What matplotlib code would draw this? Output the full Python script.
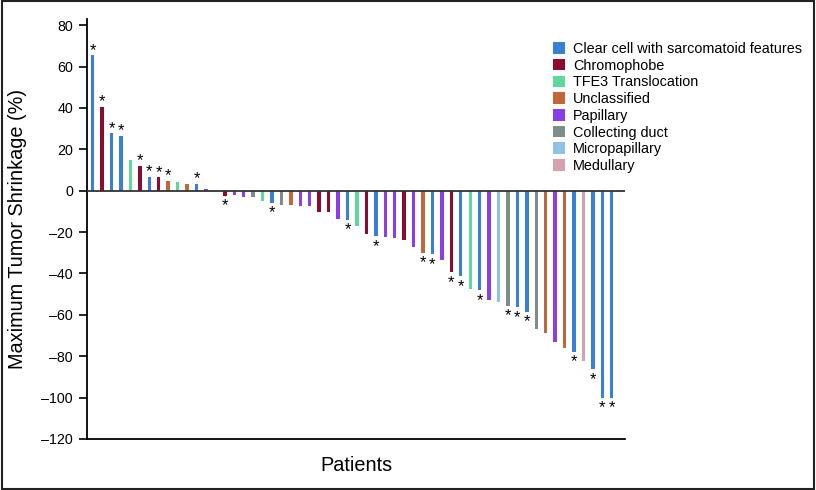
import matplotlib.pyplot as plt
from matplotlib import font_manager as fm
from matplotlib.patches import Patch, Rectangle

plt.rcParams['font.family'] = ['Liberation Sans', 'DejaVu Sans']

# condensed face for ticks and x label, if there is one
installed = {f.name for f in fm.fontManager.ttflist}
if 'Liberation Sans Narrow' in installed:
    narrow, tick_size, xlab_size = 'Liberation Sans Narrow', 11, 17.5
else:
    narrow, tick_size, xlab_size = 'Liberation Sans', 10.3, 14.3

# subtype colours
colors = {
    'Clear cell with sarcomatoid features': '#3a7fd6',
    'Chromophobe': '#8b0c2e',
    'TFE3 Translocation': '#5fd89e',
    'Unclassified': '#c0673b',
    'Papillary': '#8b3ee8',
    'Collecting duct': '#7f8c8c',
    'Micropapillary': '#90c1e7',
    'Medullary': '#d4a1ad',
}

# per patient, sorted as in the waterfall
values = [65.5, 40.5, 27.8, 26.5, 15, 12, 6.8, 6.5, 4.8, 4, 3.4, 3.2, 0.8, 0,
          -2.4, -2.1, -3, -3, -4.8, -5.9, -6.8, -6.8, -7.6, -7.6, -10.1, -10.1,
          -13.5, -14.2, -17, -21, -22, -22.3, -23, -24, -27, -30, -30.8, -33.4,
          -39.5, -41.3, -47.3, -48.1, -52.7, -53.8, -55.7, -56.4, -58.6, -66.9,
          -68.6, -73.2, -76.1, -78, -82.1, -86.4, -100, -100]

subtypes = ['Clear cell with sarcomatoid features', 'Chromophobe',
            'Clear cell with sarcomatoid features', 'Clear cell with sarcomatoid features',
            'TFE3 Translocation', 'Chromophobe', 'Clear cell with sarcomatoid features',
            'Chromophobe', 'Unclassified', 'TFE3 Translocation', 'Unclassified',
            'Clear cell with sarcomatoid features', 'Papillary', 'Papillary',
            'Chromophobe', 'Papillary', 'Papillary', 'Collecting duct',
            'TFE3 Translocation', 'Clear cell with sarcomatoid features',
            'Collecting duct', 'Unclassified', 'Papillary', 'Papillary',
            'Chromophobe', 'Chromophobe', 'Papillary',
            'Clear cell with sarcomatoid features', 'TFE3 Translocation',
            'Chromophobe', 'Clear cell with sarcomatoid features', 'Papillary',
            'Papillary', 'Chromophobe', 'Papillary', 'Unclassified',
            'Clear cell with sarcomatoid features', 'Papillary', 'Chromophobe',
            'Clear cell with sarcomatoid features', 'TFE3 Translocation',
            'Clear cell with sarcomatoid features', 'Papillary', 'Micropapillary',
            'Collecting duct', 'Clear cell with sarcomatoid features',
            'Clear cell with sarcomatoid features', 'Collecting duct',
            'Unclassified', 'Papillary', 'Unclassified',
            'Clear cell with sarcomatoid features', 'Medullary',
            'Clear cell with sarcomatoid features',
            'Clear cell with sarcomatoid features',
            'Clear cell with sarcomatoid features']

# patients marked with an asterisk (1-based)
starred = [1, 2, 3, 4, 6, 7, 8, 9, 12, 15, 20, 28, 31, 36, 37, 39, 40, 42,
           45, 46, 47, 52, 54, 55, 56]

fig = plt.figure(figsize=(8.16, 4.9), dpi=100)
ax = fig.add_axes([87 / 816, 51 / 490, 538 / 816, 420 / 490])

x = list(range(len(values)))
ax.bar(x, values, width=0.36, color=[colors[s] for s in subtypes], zorder=2)
ax.axhline(0, color='#333333', lw=1.3, zorder=3)

for n in starred:
    i = n - 1
    v = values[i]
    dy = 5 if v > 0 else -10
    ax.annotate('*', (i, v), xytext=(0, dy), textcoords='offset pixels',
                ha='center', va='center', fontsize=12)

ax.set_xlim(-0.6, 56.4)
ax.set_ylim(-120, 83)
ax.set_yticks(range(-120, 81, 20))
ax.set_yticklabels([str(t).replace('-', '\u2013') for t in range(-120, 81, 20)],
                   family=narrow)
ax.set_xticks([])
ax.spines['top'].set_visible(False)
ax.spines['right'].set_visible(False)
ax.spines['left'].set_linewidth(1.3)
ax.spines['bottom'].set_linewidth(1.3)
ax.tick_params(axis='y', direction='out', length=6, width=1.2,
               labelsize=tick_size, pad=4)

ax.set_ylabel('Maximum Tumor Shrinkage (%)', fontsize=14.3, labelpad=10)
ax.set_xlabel('Patients', fontsize=xlab_size, labelpad=12, family=narrow)

handles = [Patch(facecolor=c, edgecolor='none') for c in colors.values()]
fig.legend(handles, list(colors.keys()), loc='upper left',
           bbox_to_anchor=(547 / 816, 1 - 36 / 490), frameon=False,
           fontsize=10.4, handlelength=0.85, handleheight=0.85,
           handletextpad=0.55, labelspacing=0.19, borderaxespad=0)

fig.patches.append(Rectangle((0.002, 0.003), 0.996, 0.994, transform=fig.transFigure,
                             fill=False, edgecolor='#222222', lw=1.5))

fig.savefig('out.png', dpi=100)
